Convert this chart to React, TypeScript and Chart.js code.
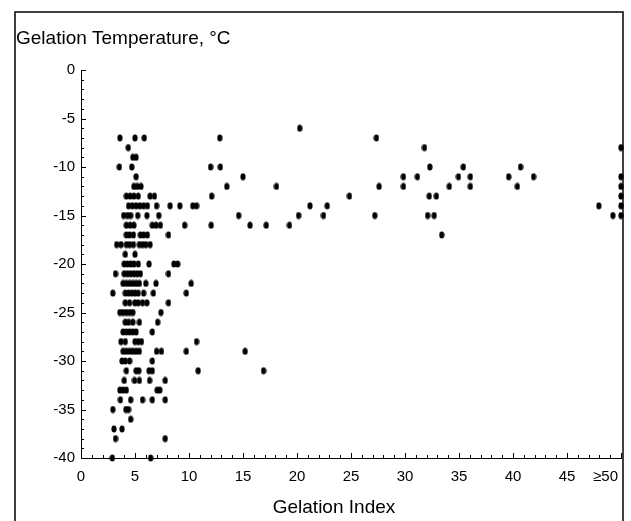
import React, { useEffect, useRef } from 'react';
import { Chart, registerables } from 'chart.js';

Chart.register(...registerables);

const chartTitle = 'Gelation Temperature, °C';
const xAxisTitle = 'Gelation Index';

const xMin = 0;
const xMax = 50;
const yMin = -40;
const yMax = 0;
const yTickStep = 5;
const xTickValues = [0, 5, 10, 15, 20, 25, 30, 35, 40, 45, 50];
const xTickLabels = ['0', '5', '10', '15', '20', '25', '30', '35', '40', '45', '≥50'];

// Gelation temperature levels (°C) and the gelation index of every sample at that level
const temperatureLevels = [
  -6, -7, -8, -9, -10, -11, -12, -13, -14, -15, -16, -17, -18, -19, -20, -21, -22, -23,
  -24, -25, -26, -27, -28, -29, -30, -31, -32, -33, -34, -35, -36, -37, -38, -40,
];
const indexAtLevel: number[][] = [
  [20.25],
  [3.6, 5.0, 5.86, 12.85, 27.35],
  [4.38, 31.8, 50],
  [4.8, 5.1],
  [3.55, 4.7, 12.0, 12.9, 32.3, 35.4, 40.7],
  [5.1, 15.0, 29.85, 31.15, 34.95, 36.05, 39.6, 41.9, 50],
  [4.9, 5.2, 5.55, 13.5, 18.1, 27.6, 29.85, 34.1, 36.05, 40.4, 50],
  [4.2, 4.55, 4.9, 5.3, 6.4, 6.8, 12.1, 24.85, 32.25, 32.9, 50],
  [4.4, 4.75, 5.1, 5.45, 5.8, 6.15, 7.0, 8.25, 9.15, 10.35, 10.7, 21.2, 22.8, 47.95, 50],
  [3.95, 4.3, 4.6, 5.25, 6.1, 7.2, 14.6, 20.15, 22.45, 27.2, 32.1, 32.7, 49.25, 50],
  [4.2, 4.55, 4.9, 6.6, 6.95, 7.35, 9.6, 12.05, 15.65, 17.15, 19.3],
  [4.2, 4.5, 4.85, 5.5, 5.8, 6.15, 8.1, 33.4],
  [3.3, 3.7, 4.2, 4.5, 4.85, 5.4, 5.7, 6.0, 6.4],
  [4.1, 5.0],
  [4.0, 4.3, 4.6, 4.9, 5.3, 6.3, 8.6, 8.95],
  [3.2, 4.0, 4.3, 4.6, 4.9, 5.2, 5.5, 8.1],
  [3.9, 4.2, 4.5, 4.8, 5.1, 5.4, 6.0, 6.95, 10.2],
  [2.95, 4.1, 4.4, 4.7, 5.0, 5.3, 5.8, 6.7, 9.75],
  [4.1, 4.5, 5.0, 5.3, 5.7, 6.1, 8.1],
  [3.6, 3.9, 4.2, 4.5, 4.8, 7.4],
  [4.1, 4.4, 4.8, 5.4, 7.1],
  [3.9, 4.2, 4.5, 4.8, 5.1, 6.6],
  [3.7, 4.1, 5.0, 5.3, 5.6, 10.7],
  [3.9, 4.2, 4.5, 4.8, 5.1, 5.4, 7.0, 7.45, 9.75, 15.2],
  [3.8, 4.1, 4.5, 6.6],
  [4.2, 5.1, 5.35, 6.3, 6.6, 10.85, 16.9],
  [4.0, 4.95, 5.4, 6.35, 7.8],
  [3.6, 3.9, 4.2, 7.05, 7.3],
  [3.65, 4.6, 5.7, 6.6, 7.8],
  [2.95, 4.15, 4.4],
  [4.6],
  [3.05, 3.8],
  [3.2, 7.8],
  [2.9, 6.45],
];

const FONT = '"Liberation Sans", Arial, Helvetica, sans-serif';

function makeDot(): HTMLCanvasElement {
  const dot = document.createElement('canvas');
  dot.width = 6;
  dot.height = 8;
  const c = dot.getContext('2d')!;
  c.fillStyle = '#000';
  c.beginPath();
  c.ellipse(3, 4, 2.6, 3.6, 0, 0, Math.PI * 2);
  c.fill();
  return dot;
}

const decorPlugin = {
  id: 'decor',
  afterDraw(chart: any) {
    const { ctx, chartArea } = chart;
    const xs = chart.scales.x;
    const ys = chart.scales.y;
    ctx.save();
    ctx.strokeStyle = '#000';
    ctx.lineWidth = 1;
    // inward ticks on y axis
    ctx.beginPath();
    for (let v = yMin; v <= yMax; v++) {
      const py = Math.round(ys.getPixelForValue(v)) + 0.5;
      const len = v % 5 === 0 ? 5 : 3;
      ctx.moveTo(chartArea.left, py);
      ctx.lineTo(chartArea.left + len, py);
    }
    // inward ticks on x axis
    for (let v = xMin; v <= xMax; v++) {
      const px = Math.round(xs.getPixelForValue(v)) + 0.5;
      const len = v % 5 === 0 ? 5 : 3;
      ctx.moveTo(px, chartArea.bottom);
      ctx.lineTo(px, chartArea.bottom - len);
    }
    ctx.stroke();

    // x tick labels
    ctx.fillStyle = '#000';
    ctx.font = `15px ${FONT}`;
    ctx.textBaseline = 'middle';
    xTickValues.forEach((v, i) => {
      const px = xs.getPixelForValue(v);
      const last = i === xTickValues.length - 1;
      ctx.textAlign = last ? 'right' : 'center';
      ctx.fillText(xTickLabels[i], last ? px - 3 : px, chartArea.bottom + 19);
    });

    // x axis title
    ctx.font = `19px ${FONT}`;
    ctx.textAlign = 'center';
    ctx.fillText(xAxisTitle, (chartArea.left + chartArea.right) / 2 - 17, 508);

    // frame
    ctx.lineWidth = 1.5;
    ctx.strokeRect(15, 12, 608, 530);
    ctx.restore();
  },
};

export default function App() {
  const canvasRef = useRef<HTMLCanvasElement | null>(null);

  useEffect(() => {
    if (!canvasRef.current) return;
    const dot = makeDot();
    const points: { x: number; y: number }[] = [];
    temperatureLevels.forEach((t, i) => {
      indexAtLevel[i].forEach((g) => points.push({ x: g, y: t }));
    });

    const chart = new Chart(canvasRef.current, {
      type: 'scatter',
      data: {
        datasets: [
          {
            data: points,
            pointStyle: dot as any,
            pointRadius: 3,
            backgroundColor: '#000',
            borderColor: '#000',
            clip: false as any,
          },
        ],
      },
      options: {
        animation: false,
        responsive: false,
        layout: { padding: { left: 16, right: 10, top: 10, bottom: 0 } },
        plugins: {
          legend: { display: false },
          tooltip: { enabled: false },
          title: {
            display: true,
            text: chartTitle,
            align: 'start',
            color: '#000',
            font: { family: FONT, size: 19, weight: 'normal' },
            padding: { top: 17, bottom: 20.2 },
          },
        },
        scales: {
          x: {
            type: 'linear',
            min: xMin,
            max: xMax,
            grid: { display: false, drawTicks: false },
            border: { display: true, color: '#000', width: 1 },
            ticks: { display: false },
            afterFit: (scale: any) => {
              scale.height = 63;
              scale.paddingLeft = 0;
              scale.paddingRight = 0;
            },
          },
          y: {
            type: 'linear',
            min: yMin,
            max: yMax,
            grid: { display: false, drawTicks: false },
            border: { display: true, color: '#000', width: 1 },
            ticks: {
              stepSize: yTickStep,
              color: '#000',
              padding: 6,
              font: { family: FONT, size: 15 },
              callback: (v: any) => String(v),
            },
            afterFit: (scale: any) => {
              scale.width = 65;
            },
          },
        },
      },
      plugins: [decorPlugin],
    });
    return () => chart.destroy();
  }, []);

  return (
    <div style={{ position: 'absolute', left: 0, top: 0, width: 631, height: 521, background: '#fff' }}>
      <canvas ref={canvasRef} width={631} height={521} style={{ display: 'block' }} />
    </div>
  );
}
